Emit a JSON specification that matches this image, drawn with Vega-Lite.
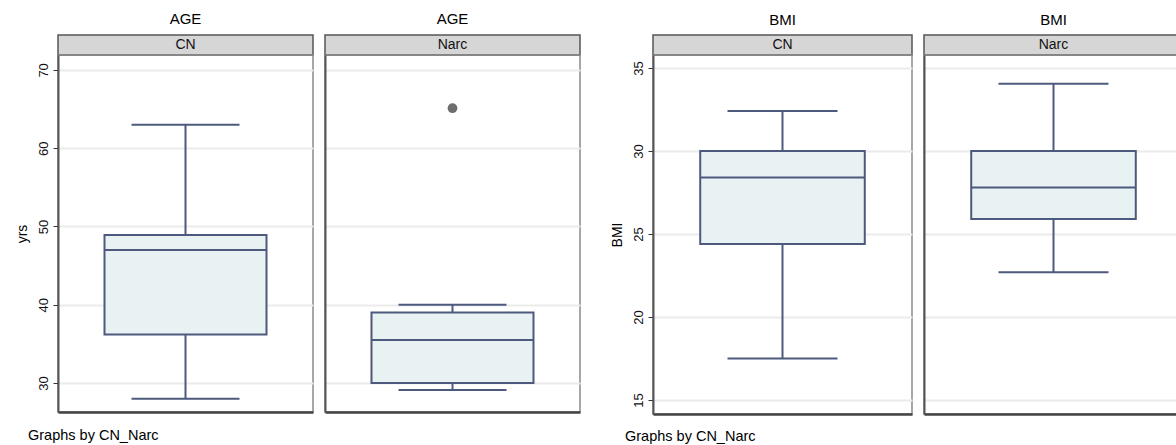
{
  "$schema": "https://vega.github.io/schema/vega-lite/v6.json",
  "background": "white",
  "padding": {"left": 14, "top": 11, "right": 0, "bottom": 0},
  "spacing": 28,
  "datasets": {
    "stats": [
      {"var": "AGE", "grp": "CN", "lo": 28, "q1": 36.2, "med": 47, "q3": 48.9, "hi": 63},
      {"var": "AGE", "grp": "Narc", "lo": 29.1, "q1": 30, "med": 35.5, "q3": 39, "hi": 40},
      {"var": "BMI", "grp": "CN", "lo": 17.5, "q1": 24.4, "med": 28.4, "q3": 30, "hi": 32.4},
      {"var": "BMI", "grp": "Narc", "lo": 22.7, "q1": 25.9, "med": 27.8, "q3": 30, "hi": 34.05}
    ],
    "outliers": [
      {"var": "AGE", "grp": "Narc", "value": 65.1}
    ]
  },
  "hconcat": [
    {
      "spacing": 10,
      "hconcat": [
        {
          "bounds": "flush",
          "spacing": 0,
          "vconcat": [
            {
              "width": 255, "height": 20,
              "data": {"name": "stats"},
              "transform": [{"filter": "datum.var === 'AGE' && datum.grp === 'CN'"}],
              "view": {"fill": "#d6d6d6", "stroke": "#555555", "strokeWidth": 1.5},
              "title": {"text": "AGE", "frame": "group", "anchor": "middle", "offset": 8, "font": "Liberation Sans", "fontSize": 15, "fontWeight": "normal", "color": "#000000"},
              "mark": {"type": "text", "font": "Liberation Sans", "fontSize": 14, "baseline": "middle", "color": "#111111"},
              "encoding": {"text": {"field": "grp", "type": "nominal"}}
            },
            {
              "width": 255, "height": 357,
              "data": {"name": "stats"},
              "transform": [{"filter": "datum.var === 'AGE' && datum.grp === 'CN'"}],
              "view": {"stroke": "#8a8a8a", "strokeWidth": 1.5},
              "title": {"text": "Graphs by CN_Narc", "orient": "bottom", "anchor": "start", "frame": "group", "dx": -30, "offset": 17, "font": "Liberation Sans", "fontSize": 14.5, "fontWeight": "normal", "color": "#000000"},
              "encoding": {
                "x": {"field": "grp", "type": "nominal", "scale": {"type": "band", "paddingInner": 0, "paddingOuter": 0.287}, "axis": {"labels": false, "ticks": false, "title": null, "grid": false}}
              },
              "layer": [
                {
                  "mark": {"type": "rule", "color": "#4d5a7e", "strokeWidth": 2},
                  "encoding": {
                    "y": {"field": "lo", "type": "quantitative", "scale": {"domain": [26.3, 71.9], "nice": false, "zero": false},
                      "axis": {"values": [30, 40, 50, 60, 70], "title": "yrs", "labelAngle": -90, "labelAlign": "center", "labelBaseline": "bottom", "labelPadding": 3}},
                    "y2": {"field": "hi"}
                  }
                },
                {
                  "mark": {"type": "bar", "fill": "#e9f2f2", "stroke": "#4d5a7e", "strokeWidth": 2},
                  "encoding": {"y": {"field": "q1", "type": "quantitative"}, "y2": {"field": "q3"}}
                },
                {
                  "mark": {"type": "tick", "color": "#4d5a7e", "opacity": 1, "thickness": 2, "size": 162, "orient": "horizontal"},
                  "encoding": {"y": {"field": "med", "type": "quantitative"}}
                },
                {
                  "mark": {"type": "tick", "color": "#4d5a7e", "opacity": 1, "thickness": 2, "size": 108, "orient": "horizontal"},
                  "encoding": {"y": {"field": "lo", "type": "quantitative"}}
                },
                {
                  "mark": {"type": "tick", "color": "#4d5a7e", "opacity": 1, "thickness": 2, "size": 108, "orient": "horizontal"},
                  "encoding": {"y": {"field": "hi", "type": "quantitative"}}
                }
              ]
            }
          ]
        },
        {
          "bounds": "flush",
          "spacing": 0,
          "vconcat": [
            {
              "width": 255, "height": 20,
              "data": {"name": "stats"},
              "transform": [{"filter": "datum.var === 'AGE' && datum.grp === 'Narc'"}],
              "view": {"fill": "#d6d6d6", "stroke": "#555555", "strokeWidth": 1.5},
              "title": {"text": "AGE", "frame": "group", "anchor": "middle", "offset": 8, "font": "Liberation Sans", "fontSize": 15, "fontWeight": "normal", "color": "#000000"},
              "mark": {"type": "text", "font": "Liberation Sans", "fontSize": 14, "baseline": "middle", "color": "#111111"},
              "encoding": {"text": {"field": "grp", "type": "nominal"}}
            },
            {
              "width": 255, "height": 357,
              "view": {"stroke": "#8a8a8a", "strokeWidth": 1.5},
              "encoding": {
                "x": {"field": "grp", "type": "nominal", "scale": {"type": "band", "paddingInner": 0, "paddingOuter": 0.287}, "axis": {"labels": false, "ticks": false, "title": null, "grid": false}}
              },
              "layer": [
                {
                  "data": {"name": "stats"},
                  "transform": [{"filter": "datum.var === 'AGE' && datum.grp === 'Narc'"}],
                  "layer": [
                    {
                      "mark": {"type": "rule", "color": "#4d5a7e", "strokeWidth": 2},
                      "encoding": {
                        "y": {"field": "lo", "type": "quantitative", "scale": {"domain": [26.3, 71.9], "nice": false, "zero": false},
                          "axis": {"values": [30, 40, 50, 60, 70], "title": null, "labels": false, "ticks": false}},
                        "y2": {"field": "hi"}
                      }
                    },
                    {
                      "mark": {"type": "bar", "fill": "#e9f2f2", "stroke": "#4d5a7e", "strokeWidth": 2},
                      "encoding": {"y": {"field": "q1", "type": "quantitative"}, "y2": {"field": "q3"}}
                    },
                    {
                      "mark": {"type": "tick", "color": "#4d5a7e", "opacity": 1, "thickness": 2, "size": 162, "orient": "horizontal"},
                      "encoding": {"y": {"field": "med", "type": "quantitative"}}
                    },
                    {
                      "mark": {"type": "tick", "color": "#4d5a7e", "opacity": 1, "thickness": 2, "size": 108, "orient": "horizontal"},
                      "encoding": {"y": {"field": "lo", "type": "quantitative"}}
                    },
                    {
                      "mark": {"type": "tick", "color": "#4d5a7e", "opacity": 1, "thickness": 2, "size": 108, "orient": "horizontal"},
                      "encoding": {"y": {"field": "hi", "type": "quantitative"}}
                    }
                  ]
                },
                {
                  "data": {"name": "outliers"},
                  "transform": [{"filter": "datum.var === 'AGE' && datum.grp === 'Narc'"}],
                  "mark": {"type": "point", "filled": true, "color": "#6e6e6e", "opacity": 1, "size": 95},
                  "encoding": {"y": {"field": "value", "type": "quantitative"}}
                }
              ]
            }
          ]
        }
      ]
    },
    {
      "spacing": 10,
      "hconcat": [
        {
          "bounds": "flush",
          "spacing": 0,
          "vconcat": [
            {
              "width": 259, "height": 20,
              "data": {"name": "stats"},
              "transform": [{"filter": "datum.var === 'BMI' && datum.grp === 'CN'"}],
              "view": {"fill": "#d6d6d6", "stroke": "#555555", "strokeWidth": 1.5},
              "title": {"text": "BMI", "frame": "group", "anchor": "middle", "offset": 7, "font": "Liberation Sans", "fontSize": 15, "fontWeight": "normal", "color": "#000000"},
              "mark": {"type": "text", "font": "Liberation Sans", "fontSize": 14, "baseline": "middle", "color": "#111111"},
              "encoding": {"text": {"field": "grp", "type": "nominal"}}
            },
            {
              "width": 259, "height": 359,
              "data": {"name": "stats"},
              "transform": [{"filter": "datum.var === 'BMI' && datum.grp === 'CN'"}],
              "view": {"stroke": "#8a8a8a", "strokeWidth": 1.5},
              "title": {"text": "Graphs by CN_Narc", "orient": "bottom", "anchor": "start", "frame": "group", "dx": -28, "offset": 16, "font": "Liberation Sans", "fontSize": 14.5, "fontWeight": "normal", "color": "#000000"},
              "encoding": {
                "x": {"field": "grp", "type": "nominal", "scale": {"type": "band", "paddingInner": 0, "paddingOuter": 0.287}, "axis": {"labels": false, "ticks": false, "title": null, "grid": false}}
              },
              "layer": [
                {
                  "mark": {"type": "rule", "color": "#4d5a7e", "strokeWidth": 2},
                  "encoding": {
                    "y": {"field": "lo", "type": "quantitative", "scale": {"domain": [14.16, 35.78], "nice": false, "zero": false},
                      "axis": {"values": [15, 20, 25, 30, 35], "title": "BMI", "labelAngle": -90, "labelAlign": "center", "labelBaseline": "bottom", "labelPadding": 3}},
                    "y2": {"field": "hi"}
                  }
                },
                {
                  "mark": {"type": "bar", "fill": "#e9f2f2", "stroke": "#4d5a7e", "strokeWidth": 2},
                  "encoding": {"y": {"field": "q1", "type": "quantitative"}, "y2": {"field": "q3"}}
                },
                {
                  "mark": {"type": "tick", "color": "#4d5a7e", "opacity": 1, "thickness": 2, "size": 164, "orient": "horizontal"},
                  "encoding": {"y": {"field": "med", "type": "quantitative"}}
                },
                {
                  "mark": {"type": "tick", "color": "#4d5a7e", "opacity": 1, "thickness": 2, "size": 110, "orient": "horizontal"},
                  "encoding": {"y": {"field": "lo", "type": "quantitative"}}
                },
                {
                  "mark": {"type": "tick", "color": "#4d5a7e", "opacity": 1, "thickness": 2, "size": 110, "orient": "horizontal"},
                  "encoding": {"y": {"field": "hi", "type": "quantitative"}}
                }
              ]
            }
          ]
        },
        {
          "bounds": "flush",
          "spacing": 0,
          "vconcat": [
            {
              "width": 259, "height": 20,
              "data": {"name": "stats"},
              "transform": [{"filter": "datum.var === 'BMI' && datum.grp === 'Narc'"}],
              "view": {"fill": "#d6d6d6", "stroke": "#555555", "strokeWidth": 1.5},
              "title": {"text": "BMI", "frame": "group", "anchor": "middle", "offset": 7, "font": "Liberation Sans", "fontSize": 15, "fontWeight": "normal", "color": "#000000"},
              "mark": {"type": "text", "font": "Liberation Sans", "fontSize": 14, "baseline": "middle", "color": "#111111"},
              "encoding": {"text": {"field": "grp", "type": "nominal"}}
            },
            {
              "width": 259, "height": 359,
              "data": {"name": "stats"},
              "transform": [{"filter": "datum.var === 'BMI' && datum.grp === 'Narc'"}],
              "view": {"stroke": "#8a8a8a", "strokeWidth": 1.5},
              "encoding": {
                "x": {"field": "grp", "type": "nominal", "scale": {"type": "band", "paddingInner": 0, "paddingOuter": 0.287}, "axis": {"labels": false, "ticks": false, "title": null, "grid": false}}
              },
              "layer": [
                {
                  "mark": {"type": "rule", "color": "#4d5a7e", "strokeWidth": 2},
                  "encoding": {
                    "y": {"field": "lo", "type": "quantitative", "scale": {"domain": [14.16, 35.78], "nice": false, "zero": false},
                      "axis": {"values": [15, 20, 25, 30, 35], "title": null, "labels": false, "ticks": false}},
                    "y2": {"field": "hi"}
                  }
                },
                {
                  "mark": {"type": "bar", "fill": "#e9f2f2", "stroke": "#4d5a7e", "strokeWidth": 2},
                  "encoding": {"y": {"field": "q1", "type": "quantitative"}, "y2": {"field": "q3"}}
                },
                {
                  "mark": {"type": "tick", "color": "#4d5a7e", "opacity": 1, "thickness": 2, "size": 164, "orient": "horizontal"},
                  "encoding": {"y": {"field": "med", "type": "quantitative"}}
                },
                {
                  "mark": {"type": "tick", "color": "#4d5a7e", "opacity": 1, "thickness": 2, "size": 110, "orient": "horizontal"},
                  "encoding": {"y": {"field": "lo", "type": "quantitative"}}
                },
                {
                  "mark": {"type": "tick", "color": "#4d5a7e", "opacity": 1, "thickness": 2, "size": 110, "orient": "horizontal"},
                  "encoding": {"y": {"field": "hi", "type": "quantitative"}}
                }
              ]
            }
          ]
        }
      ]
    }
  ],
  "config": {
    "axisX": {"domainColor": "#444444", "domainWidth": 2.5},
    "axisY": {
      "grid": true, "gridColor": "#ebebeb", "gridWidth": 2,
      "domainColor": "#555555", "domainWidth": 2,
      "tickColor": "#333333", "tickSize": 5, "tickWidth": 1,
      "labelFont": "Liberation Sans", "labelFontSize": 13, "labelColor": "#111111",
      "titleFont": "Liberation Sans", "titleFontSize": 14, "titleFontWeight": "normal", "titleColor": "#000000", "titlePadding": 8
    }
  }
}
